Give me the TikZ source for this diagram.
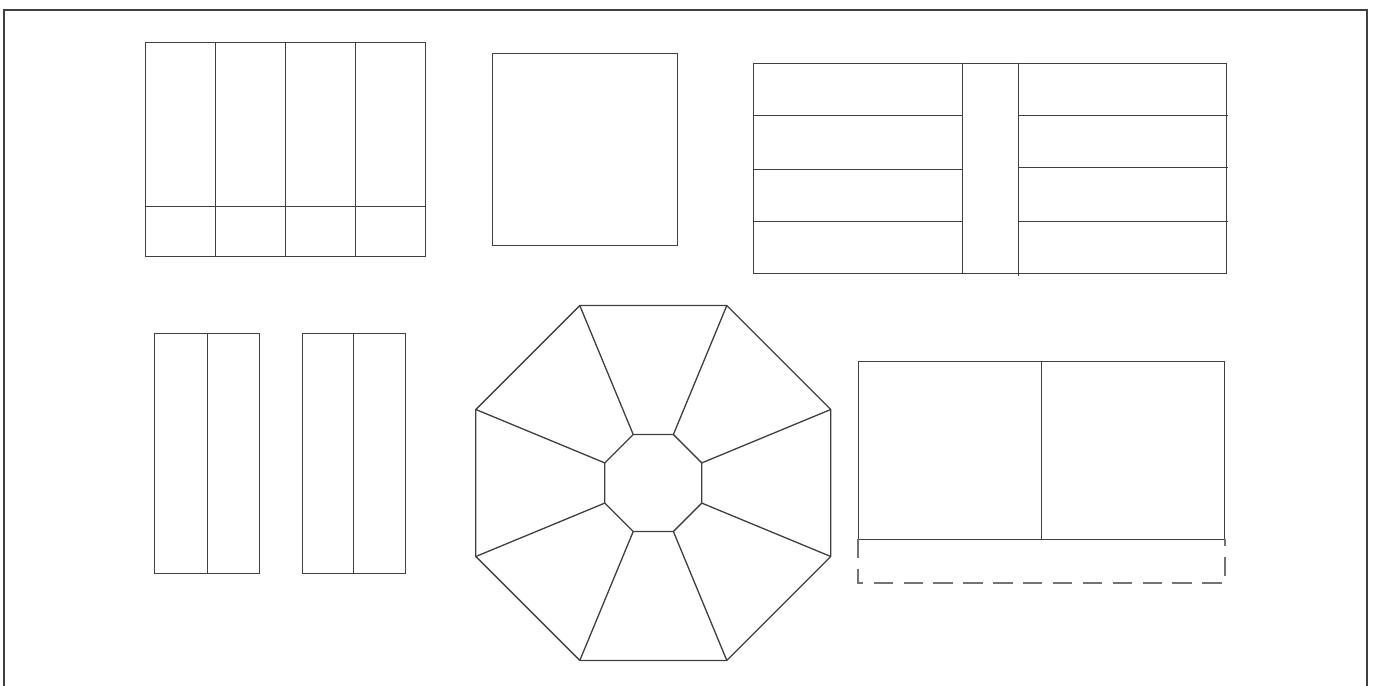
\documentclass[tikz,border=0pt]{standalone}
\usetikzlibrary{calc}

\tikzset{
  wall/.style={draw=black!75, line width=0.5pt},
  star/.style={draw=black!75, line width=0.75pt},
  ghost/.style={draw=black!55, line width=0.9pt, dash pattern=on 11 off 6},
}

\begin{document}
\begin{tikzpicture}[x=0.02cm, y=-0.02cm]
    \useasboundingbox (0,0) rectangle (1373,686);
    \clip (0,0) rectangle (1373,686);

    % outer frame
    \draw[wall, line width=1pt] (4,700) -- (4,10) -- (1367,10) -- (1367,700);

    % wardrobe, top left
    \draw[wall] (145,42) rectangle (425,256);
    \draw[wall] (145,206) -- (425,206);
    \foreach \x in {215,285,355}
        \draw[wall] (\x,42) -- (\x,256);

    % square
    \draw[wall] (492,53) rectangle (677,245);

    % shelf, top right
    \draw[wall] (753,63) rectangle (1226,273);
    \draw[wall] (962,63) -- (962,273);
    \draw[wall] (1018,63) -- (1018,276);
    \foreach \y in {115,169,221}
        \draw[wall] (753,\y) -- (962,\y);
    \foreach \y in {115,167,221}
        \draw[wall] (1018,\y) -- (1228,\y);

    % narrow cabinets
    \draw[wall] (154,333) rectangle (259,573);
    \draw[wall] (207,333) -- (207,573);
    \draw[wall] (302,333) rectangle (405,573);
    \draw[wall] (353,333) -- (353,573);

    % octagon
    \coordinate (C) at (653.3,483);
    \foreach \i in {0,...,7} {
        \coordinate (o\i) at ($(C)+(22.5+45*\i:192.1)$);
        \coordinate (n\i) at ($(C)+(22.5+45*\i:52.5)$);
    }
    \draw[star] (o0) -- (o1) -- (o2) -- (o3) -- (o4) -- (o5) -- (o6) -- (o7) -- cycle;
    \draw[star] (n0) -- (n1) -- (n2) -- (n3) -- (n4) -- (n5) -- (n6) -- (n7) -- cycle;
    \foreach \i in {0,...,7}
        \draw[star] (o\i) -- (n\i);

    % double unit, bottom right
    \draw[wall] (858,361) rectangle (1224,539);
    \draw[wall] (1041,361) -- (1041,539);
    \draw[ghost] (858,539) -- (858,583) -- (1225,583) -- (1225,539);
\end{tikzpicture}
\end{document}
